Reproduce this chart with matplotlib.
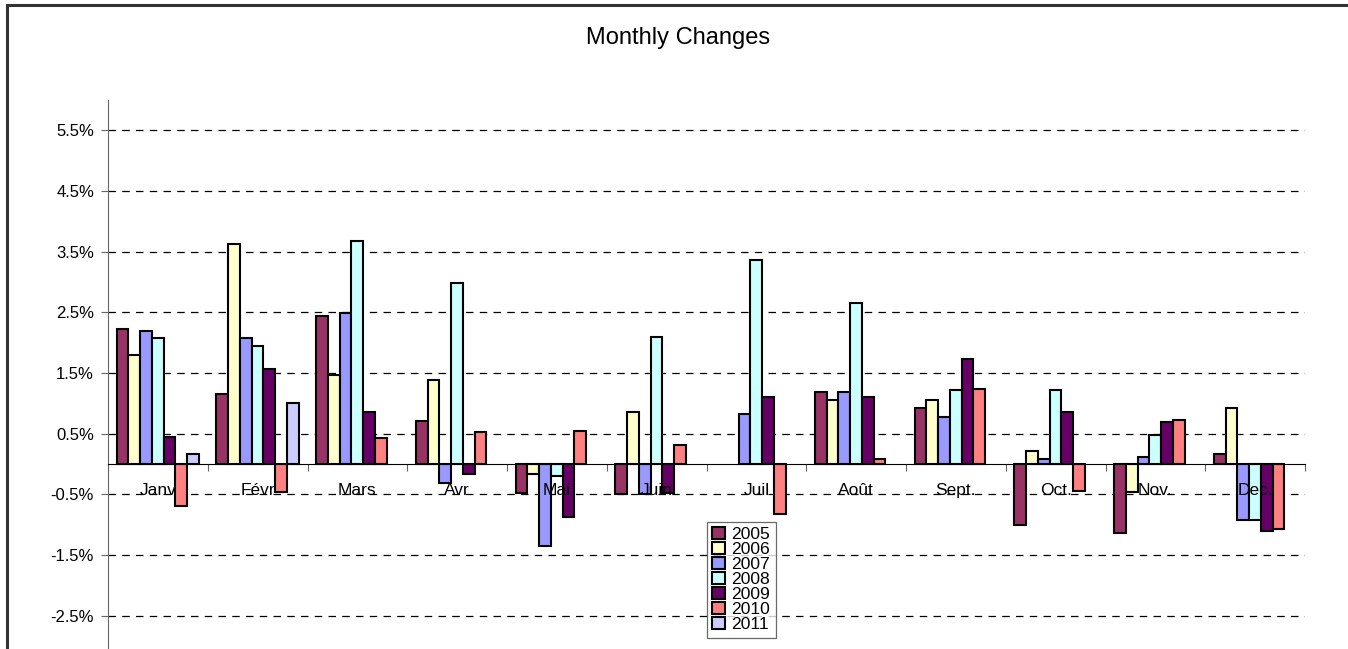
import numpy as np
import matplotlib
matplotlib.use("Agg")
import matplotlib.pyplot as plt
from matplotlib.patches import Rectangle
from matplotlib.ticker import FixedLocator

plt.rcParams['font.family'] = ['Liberation Sans', 'DejaVu Sans']

# Données
months = ["Janv", "Févr", "Mars", "Avr", "Mai", "Juin",
          "Juil", "Août", "Sept.", "Oct.", "Nov.", "Dec."]
years = ["2005", "2006", "2007", "2008", "2009", "2010", "2011"]
nan = np.nan
v2005 = [2.23, 1.15, 2.44, 0.71, -0.48, -0.50, nan, 1.19, 0.93, -1.01, -1.14, 0.16]
v2006 = [1.80, 3.63, 1.46, 1.38, -0.16, 0.85, nan, 1.06, 1.06, 0.21, -0.47, 0.93]
v2007 = [2.19, 2.07, 2.49, -0.32, -1.35, -0.50, 0.83, 1.19, 0.77, 0.08, 0.11, -0.93]
v2008 = [2.07, 1.94, 3.68, 2.99, -0.19, 2.09, 3.37, 2.65, 1.22, 1.22, 0.48, -0.93]
v2009 = [0.45, 1.56, 0.85, -0.16, -0.88, -0.48, 1.11, 1.11, 1.73, 0.85, 0.69, -1.11]
v2010 = [-0.69, -0.46, 0.42, 0.53, 0.55, 0.32, -0.82, 0.08, 1.24, -0.45, 0.72, -1.07]
v2011 = [0.16, 1.01, nan, nan, nan, nan, nan, nan, nan, nan, nan, nan]
series = [v2005, v2006, v2007, v2008, v2009, v2010, v2011]
colors = ["#993366", "#FFFFCC", "#9999FF", "#CCFFFF", "#660066", "#FF8080", "#CCCCFF"]
yticks = [-2.5, -1.5, -0.5, 0.5, 1.5, 2.5, 3.5, 4.5, 5.5]

W, H = 1348, 649
fig = plt.figure(figsize=(W / 100, H / 100), dpi=100)

# cadre du graphique
fig.patches.append(Rectangle((7 / W, -0.1), 1.2, 1 - 5 / H + 0.1,
                             transform=fig.transFigure, fill=False,
                             edgecolor="#333333", linewidth=2.2))

ax = fig.add_axes([108 / W, 0, (1305 - 108) / W, 1 - 100 / H])

x = np.arange(len(months))
bw = 0.118
off = 0.086
for j, (vals, c, yr) in enumerate(zip(series, colors, years)):
    ax.bar(x + off + j * bw, vals, width=bw, align="edge", color=c,
           edgecolor="black", linewidth=1.5, label=yr, zorder=3)

ax.set_xlim(0, 12)
ax.set_ylim(-3.05, 6.0)

ax.yaxis.set_major_locator(FixedLocator(yticks))
ax.set_yticklabels([f"{t:.1f}%" for t in yticks], fontsize=12)
ax.tick_params(axis="y", direction="out", length=5, color="#666666", pad=5)
ax.grid(axis="y", linestyle=(0, (6, 5)), color="black", linewidth=0.9, zorder=1)

ax.spines["top"].set_visible(False)
ax.spines["right"].set_visible(False)
ax.spines["left"].set_color("#666666")
ax.spines["bottom"].set_position(("data", 0))
ax.spines["bottom"].set_zorder(4)
ax.set_xticks(np.arange(13))
ax.set_xticklabels([])
ax.tick_params(axis="x", direction="out", length=5, color="#666666")

for i, m in enumerate(months):
    ax.text(i + 0.5, -0.44, m, ha="center", va="center", fontsize=12.5, zorder=5)

fig.text(678 / W, 1 - 38 / H, "Monthly Changes", ha="center", va="center", fontsize=17)

leg = fig.legend(loc="upper left", bbox_to_anchor=(707 / W, 1 - 522 / H),
                 fontsize=12.6, frameon=True, fancybox=False, edgecolor="#444444",
                 borderpad=0.3, labelspacing=0.0, handlelength=0.7, handleheight=0.65,
                 handletextpad=0.4, borderaxespad=0)
leg.get_frame().set_linewidth(0.9)

fig.savefig("out.png", dpi=100)
